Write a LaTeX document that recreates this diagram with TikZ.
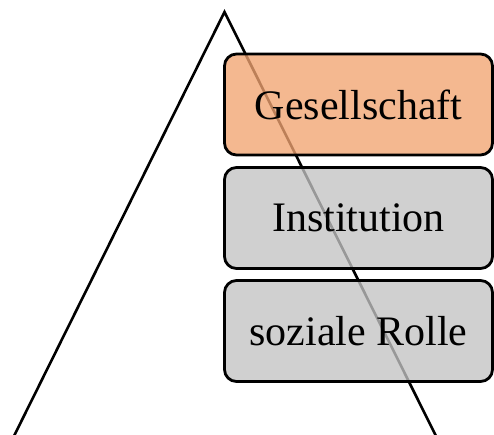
\documentclass[tikz,border=0pt]{standalone}
\usepackage{fontspec}
\setmainfont{Liberation Serif}
% fill colours chosen so that, at 78% opacity over white, they show the intended tones
\definecolor{socfill}{RGB}{241,164,113}
\definecolor{greyfill}{RGB}{195,195,195}
\begin{document}
\begin{tikzpicture}[x=1pt,y=-1pt,
  level/.style={draw=black, line width=2.8pt, rounded corners=12pt,
    fill opacity=0.78, text opacity=1, draw opacity=1,
    minimum width=268pt, minimum height=101pt, inner sep=0pt,
    font=\fontsize{42}{50}\selectfont, anchor=center},
  edge/.style={line width=2.6pt, black}]
  \useasboundingbox (0,0) rectangle (494,434);
  % triangle sides (base lies outside the page)
  \coordinate (apex) at (224.5,12);
  \coordinate (left) at (14,436);
  \coordinate (right) at (436,436);
  \draw[edge] (left) -- (apex) -- (right);
  % stacked levels
  \node[level, fill=socfill] (soc) at (358.5,104.5) {Gesellschaft};
  \node[level, fill=greyfill] (inst) at (358.5,218) {Institution};
  \node[level, fill=greyfill] (role) at (358.5,331) {soziale Rolle};
\end{tikzpicture}
\end{document}
